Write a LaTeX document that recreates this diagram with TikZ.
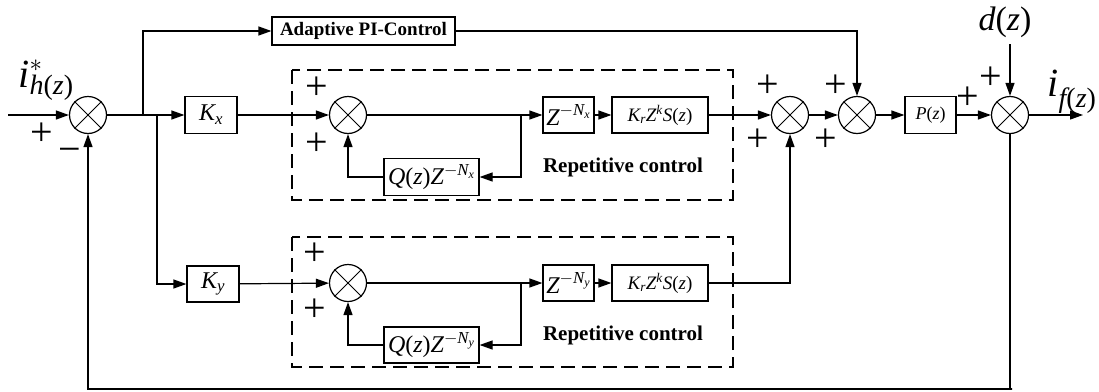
\documentclass[tikz,border=0pt]{standalone}
\usepackage{amsmath}
\usepackage{fontspec}
\setmainfont{Liberation Serif}
\usetikzlibrary{arrows.meta,calc}
\newcommand\vi[1]{\textit{#1}}
\newcommand\up[1]{\textup{#1}}
\begin{document}
\begin{tikzpicture}[x=1pt,y=-1pt,
  line width=1.2pt,
  >={Triangle[length=13pt,width=9pt]},
  sumj/.style={circle,draw,minimum size=37pt,inner sep=0pt},
  blk/.style={draw,inner sep=0pt,font=\fontsize{24}{26}\selectfont},
  sblk/.style={draw,inner sep=0pt,font=\fontsize{19}{21}\selectfont},
  sgn/.style={inner sep=0pt,font=\fontsize{40}{40}\selectfont},
  lbl/.style={inner sep=0pt,font=\bfseries\fontsize{21}{24}\selectfont},
  rcbox/.style={draw,dashed,dash pattern=on 14pt off 7pt,line width=1.1pt}]
\useasboundingbox (0,0) rectangle (1099,391);

% repetitive-control frames
\draw[rcbox] (292,70) rectangle (733,200);
\draw[rcbox] (292,237) rectangle (733,367);

% summing junctions
\node[sumj] (s1) at (88,115) {};
\node[sumj] (s2) at (348,115) {};
\node[sumj] (s3) at (348,283) {};
\node[sumj] (s4) at (790,115) {};
\node[sumj] (s5) at (857,115) {};
\node[sumj] (s6) at (1010,115) {};
\foreach \s in {s1,s2,s3,s4,s5,s6}{
  \draw[line width=1pt] (\s.north west) -- (\s.south east) (\s.north east) -- (\s.south west);}

% blocks
\node[draw,lbl,font=\bfseries\fontsize{19}{22}\selectfont,minimum width=183pt,minimum height=28pt] (pi) at (363.5,31) {Adaptive PI-Control};
\node[blk,minimum width=52pt,minimum height=37pt] (kx) at (211,115) {$\vi{K}_{\vi{x}}$};
\node[blk,minimum width=52pt,minimum height=36pt] (ky) at (213,284) {$\vi{K}_{\vi{y}}$};
\node[blk,minimum width=51pt,minimum height=36pt] (zx) at (568.5,115) {$\vi{Z}^{-\vi{N}_{\vi{x}}}$};
\node[blk,minimum width=51pt,minimum height=36pt] (zy) at (568.5,283) {$\vi{Z}^{-\vi{N}_{\vi{y}}}$};
\node[sblk,minimum width=96pt,minimum height=36pt] (rx) at (660,115) {$\vi{K}_{\vi{r}}\vi{Z}^{\vi{k}}\vi{S}\up{(}\vi{z}\up{)}$};
\node[sblk,minimum width=96pt,minimum height=36pt] (ry) at (660,283) {$\vi{K}_{\vi{r}}\vi{Z}^{\vi{k}}\vi{S}\up{(}\vi{z}\up{)}$};
\node[blk,minimum width=95pt,minimum height=37pt] (qx) at (431.5,177) {$\vi{Q}\up{(}\vi{z}\up{)}\vi{Z}^{-\vi{N}_{\vi{x}}}$};
\node[blk,minimum width=95pt,minimum height=36pt] (qy) at (431.5,345) {$\vi{Q}\up{(}\vi{z}\up{)}\vi{Z}^{-\vi{N}_{\vi{y}}}$};
\node[sblk,font=\fontsize{18}{20}\selectfont,minimum width=51pt,minimum height=37pt] (p) at (930.5,115) {$\vi{P}\up{(}\vi{z}\up{)}$};

% labels
\node[inner sep=0pt,font=\fontsize{40}{40}\selectfont] (ref) at (46,80) {$\vi{i}^{*}_{\vi{h}\up{(}\vi{z}\up{)}}$};
\node[inner sep=0pt,font=\fontsize{40}{40}\selectfont] (outl) at (1072,92) {$\vi{i}_{\vi{f}\up{(}\vi{z}\up{)}}$};
\node[inner sep=0pt,font=\fontsize{34}{34}\selectfont] (dz) at (1005,22) {\vi{d}(\vi{z})};
\node[lbl] (rcx) at (623,167) {Repetitive control};
\node[lbl] (rcy) at (623,335) {Repetitive control};

% signs
\node[sgn] (p1) at (42,134) {+};
\node[sgn] (m1) at (70,155) {−};
\node[sgn] (p2a) at (317,88) {+};
\node[sgn] (p2b) at (317,144) {+};
\node[sgn] (p3a) at (315,254) {+};
\node[sgn] (p3b) at (315,310) {+};
\node[sgn] (p4a) at (768,86) {+};
\node[sgn] (p4b) at (758,140) {+};
\node[sgn] (p5a) at (836,86) {+};
\node[sgn] (p5b) at (826,140) {+};
\node[sgn] (p6a) at (968,98) {+};
\node[sgn] (p6b) at (991,78) {+};

% branch points
\coordinate (in) at (8,115);
\coordinate (b1) at (143,115);
\coordinate (b2) at (157,115);
\coordinate (b3) at (521,115);
\coordinate (b4) at (521,283);
\coordinate (out) at (1083,115);
\coordinate (fb) at (1012,389);

% connectors
\draw[->] (in) -- (s1);
\draw (s1) -- (b2);
\draw[->] (b2) -- (kx);
\draw[->] (b1) |- (pi);
\draw[->] (pi) -| (s5);
\draw[->] (b2) |- (ky);
\draw[->] (kx) -- (s2);
\draw[->] (ky) -- (s3);
\draw (s2) -- (b3);
\draw (s3) -- (b4);
\draw[->] (b3) -- (zx);
\draw[->] (b4) -- (zy);
\draw[->] (zx) -- (rx);
\draw[->] (zy) -- (ry);
\draw[->] (b3) |- (qx);
\draw[->] (b4) |- (qy);
\draw[->] (qx) -| (s2);
\draw[->] (qy) -| (s3);
\draw[->] (rx) -- (s4);
\draw[->] (ry) -| (s4);
\draw[->] (s4) -- (s5);
\draw[->] (s5) -- (p);
\draw[->] (p) -- (s6);
\draw[->] (s6) -- (out);
\draw[->] (s6 |- dz.south) ++(0,6) -- (s6);
\draw[->] (s6) |- (fb) -| (s1);
\end{tikzpicture}
\end{document}
